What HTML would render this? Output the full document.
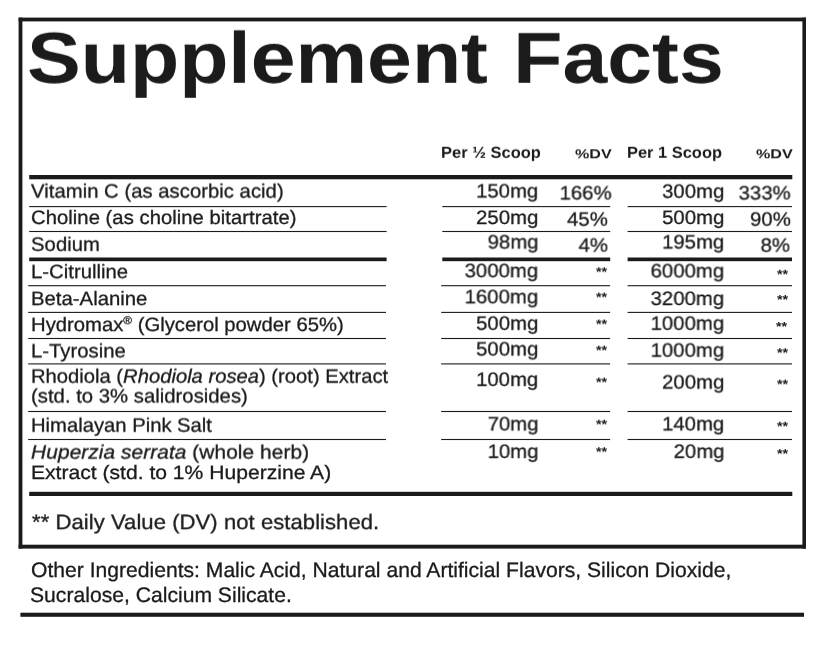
<!DOCTYPE html>
<html><head><meta charset="utf-8"><title>Supplement Facts</title>
<style>
html,body{margin:0;padding:0;background:#fff;}
body{width:816px;height:663px;position:relative;overflow:hidden;font-family:"Liberation Sans",sans-serif;color:#1b1b1b;text-rendering:geometricPrecision;}
.a{position:absolute;white-space:nowrap;line-height:1;will-change:transform;-webkit-text-stroke:0.3px #1b1b1b;}
.rules{position:absolute;left:0;top:0;}
sup{font-size:0.58em;vertical-align:baseline;position:relative;top:-0.6em;line-height:0;}
</style></head><body>
<svg class="rules" width="816" height="663" viewBox="0 0 816 663">
<rect x="18.6" y="17.6" width="787.40" height="3.80" fill="#1b1b1b"/>
<rect x="18.6" y="17.6" width="3.80" height="531.00" fill="#1b1b1b"/>
<rect x="802.4" y="17.6" width="3.60" height="531.00" fill="#1b1b1b"/>
<rect x="18.6" y="544.7" width="787.40" height="3.90" fill="#1b1b1b"/>
<rect x="20.4" y="612.7" width="783.60" height="4.10" fill="#1b1b1b"/>
<rect x="29.2" y="175.0" width="763.10" height="4.30" fill="#1b1b1b"/>
<rect x="29.2" y="491.8" width="763.10" height="4.20" fill="#1b1b1b"/>
<rect x="29.2" y="206.04999999999998" width="357.40" height="1.10" fill="#1b1b1b"/>
<rect x="442.3" y="206.04999999999998" width="167.90" height="1.10" fill="#1b1b1b"/>
<rect x="627.6" y="206.04999999999998" width="164.40" height="1.10" fill="#1b1b1b"/>
<rect x="29.2" y="230.95" width="357.40" height="1.10" fill="#1b1b1b"/>
<rect x="442.3" y="230.95" width="167.90" height="1.10" fill="#1b1b1b"/>
<rect x="627.6" y="230.95" width="164.40" height="1.10" fill="#1b1b1b"/>
<rect x="28.2" y="285.15" width="357.80" height="1.10" fill="#1b1b1b"/>
<rect x="441.2" y="285.15" width="168.90" height="1.10" fill="#1b1b1b"/>
<rect x="627.6" y="285.15" width="164.40" height="1.10" fill="#1b1b1b"/>
<rect x="28.2" y="311.84999999999997" width="357.80" height="1.10" fill="#1b1b1b"/>
<rect x="441.2" y="311.84999999999997" width="168.90" height="1.10" fill="#1b1b1b"/>
<rect x="627.6" y="311.84999999999997" width="164.40" height="1.10" fill="#1b1b1b"/>
<rect x="28.2" y="337.95" width="357.80" height="1.10" fill="#1b1b1b"/>
<rect x="441.2" y="337.95" width="168.90" height="1.10" fill="#1b1b1b"/>
<rect x="627.6" y="337.95" width="164.40" height="1.10" fill="#1b1b1b"/>
<rect x="28.2" y="363.34999999999997" width="357.80" height="1.10" fill="#1b1b1b"/>
<rect x="441.2" y="363.34999999999997" width="168.90" height="1.10" fill="#1b1b1b"/>
<rect x="627.6" y="363.34999999999997" width="164.40" height="1.10" fill="#1b1b1b"/>
<rect x="28.2" y="410.95" width="357.80" height="1.10" fill="#1b1b1b"/>
<rect x="441.2" y="410.95" width="168.90" height="1.10" fill="#1b1b1b"/>
<rect x="627.6" y="410.95" width="164.40" height="1.10" fill="#1b1b1b"/>
<rect x="28.2" y="438.95" width="357.80" height="1.10" fill="#1b1b1b"/>
<rect x="441.2" y="438.95" width="168.90" height="1.10" fill="#1b1b1b"/>
<rect x="627.6" y="438.95" width="164.40" height="1.10" fill="#1b1b1b"/>
<rect x="29.2" y="257.5" width="357.40" height="3.70" fill="#1b1b1b"/>
<rect x="442.3" y="257.5" width="167.90" height="3.70" fill="#1b1b1b"/>
<rect x="627.6" y="257.5" width="164.40" height="3.70" fill="#1b1b1b"/>
</svg>
<div id="e0" class="a" style="top:22px;font-size:72.5px;left:27.2px;font-weight:bold;transform:translateY(0.8px) rotate(0.002deg) scaleX(1.111);transform-origin:left top;-webkit-text-stroke:0;word-spacing:2.7px;">Supplement Facts</div>
<div id="e1" class="a" style="top:145px;font-size:16px;left:440.5px;font-weight:bold;transform:translateY(0.8px) rotate(0.002deg) scaleX(1.03);transform-origin:left top;-webkit-text-stroke:0;">Per ½ Scoop</div>
<div id="e2" class="a" style="top:147px;font-size:13px;left:574.5px;font-weight:bold;transform:translateY(0.3px) rotate(0.002deg) scaleX(1.24);transform-origin:left top;-webkit-text-stroke:0;">%DV</div>
<div id="e3" class="a" style="top:145px;font-size:16px;left:627.0px;font-weight:bold;transform:translateY(0.8px) rotate(0.002deg) scaleX(1.027);transform-origin:left top;-webkit-text-stroke:0;">Per 1 Scoop</div>
<div id="e4" class="a" style="top:147px;font-size:13px;left:755.9px;font-weight:bold;transform:translateY(0.3px) rotate(0.002deg) scaleX(1.24);transform-origin:left top;-webkit-text-stroke:0;">%DV</div>
<div id="e5" class="a" style="top:182px;font-size:19.4px;left:31.4px;transform:translateY(0.6px) rotate(0.002deg) scaleX(1.048);transform-origin:left top;">Vitamin C (as ascorbic acid)</div>
<div id="e6" class="a" style="top:209px;font-size:19.4px;left:31.4px;transform:translateY(0px) rotate(0.002deg) scaleX(1.048);transform-origin:left top;">Choline (as choline bitartrate)</div>
<div id="e7" class="a" style="top:235px;font-size:19.4px;left:31.4px;transform:translateY(0.8px) rotate(0.002deg) scaleX(1.048);transform-origin:left top;">Sodium</div>
<div id="e8" class="a" style="top:263px;font-size:19.4px;left:31.4px;transform:translateY(0.2px) rotate(0.002deg) scaleX(1.048);transform-origin:left top;">L-Citrulline</div>
<div id="e9" class="a" style="top:290px;font-size:19.4px;left:31.4px;transform:translateY(0.1px) rotate(0.002deg) scaleX(1.048);transform-origin:left top;">Beta-Alanine</div>
<div id="e10" class="a" style="top:316px;font-size:19.4px;left:31.4px;transform:translateY(0.1px) rotate(0.002deg) scaleX(1.045);transform-origin:left top;">Hydromax<sup>®</sup> (Glycerol powder 65%)</div>
<div id="e11" class="a" style="top:342px;font-size:19.4px;left:31.4px;transform:translateY(0.4px) rotate(0.002deg) scaleX(1.048);transform-origin:left top;">L-Tyrosine</div>
<div id="e12" class="a" style="top:367px;font-size:19.4px;left:31.4px;transform:translateY(0.7px) rotate(0.002deg) scaleX(1.042);transform-origin:left top;">Rhodiola (<i>Rhodiola rosea</i>) (root) Extract</div>
<div id="e13" class="a" style="top:387px;font-size:19.4px;left:31.4px;transform:translateY(0.5px) rotate(0.002deg) scaleX(1.048);transform-origin:left top;">(std. to 3% salidrosides)</div>
<div id="e14" class="a" style="top:416px;font-size:19.4px;left:31.4px;transform:translateY(0.7px) rotate(0.002deg) scaleX(1.043);transform-origin:left top;">Himalayan Pink Salt</div>
<div id="e15" class="a" style="top:443px;font-size:19.4px;left:31.4px;transform:translateY(0.6px) rotate(0.002deg) scaleX(1.084);transform-origin:left top;"><i>Huperzia serrata</i> (whole herb)</div>
<div id="e16" class="a" style="top:464px;font-size:19.4px;left:31.4px;transform:translateY(0px) rotate(0.002deg) scaleX(1.088);transform-origin:left top;">Extract (std. to 1% Huperzine A)</div>
<div id="e17" class="a" style="top:182px;font-size:19.4px;right:277.70px;transform:translateY(0.5px) rotate(0.002deg) scaleX(1.048);transform-origin:right top;">150mg</div>
<div id="e18" class="a" style="top:209px;font-size:19.4px;right:277.70px;transform:translateY(0px) rotate(0.002deg) scaleX(1.048);transform-origin:right top;">250mg</div>
<div id="e19" class="a" style="top:233px;font-size:19.4px;right:277.70px;transform:translateY(0.5px) rotate(0.002deg) scaleX(1.048);transform-origin:right top;">98mg</div>
<div id="e20" class="a" style="top:262px;font-size:19.4px;right:277.70px;transform:translateY(0.2px) rotate(0.002deg) scaleX(1.048);transform-origin:right top;">3000mg</div>
<div id="e21" class="a" style="top:288px;font-size:19.4px;right:277.70px;transform:translateY(0.3px) rotate(0.002deg) scaleX(1.048);transform-origin:right top;">1600mg</div>
<div id="e22" class="a" style="top:314px;font-size:19.4px;right:277.70px;transform:translateY(0.8px) rotate(0.002deg) scaleX(1.048);transform-origin:right top;">500mg</div>
<div id="e23" class="a" style="top:340px;font-size:19.4px;right:277.70px;transform:translateY(0.5px) rotate(0.002deg) scaleX(1.048);transform-origin:right top;">500mg</div>
<div id="e24" class="a" style="top:370px;font-size:19.4px;right:277.70px;transform:translateY(0.9px) rotate(0.002deg) scaleX(1.048);transform-origin:right top;">100mg</div>
<div id="e25" class="a" style="top:415px;font-size:19.4px;right:277.70px;transform:translateY(0.4px) rotate(0.002deg) scaleX(1.048);transform-origin:right top;">70mg</div>
<div id="e26" class="a" style="top:442px;font-size:19.4px;right:277.70px;transform:translateY(0.9px) rotate(0.002deg) scaleX(1.048);transform-origin:right top;">10mg</div>
<div id="e27" class="a" style="top:182px;font-size:19.4px;right:91.70px;transform:translateY(0.8px) rotate(0.002deg) scaleX(1.048);transform-origin:right top;">300mg</div>
<div id="e28" class="a" style="top:209px;font-size:19.4px;right:91.70px;transform:translateY(0px) rotate(0.002deg) scaleX(1.048);transform-origin:right top;">500mg</div>
<div id="e29" class="a" style="top:233px;font-size:19.4px;right:91.70px;transform:translateY(0.5px) rotate(0.002deg) scaleX(1.048);transform-origin:right top;">195mg</div>
<div id="e30" class="a" style="top:262px;font-size:19.4px;right:91.70px;transform:translateY(0.4px) rotate(0.002deg) scaleX(1.048);transform-origin:right top;">6000mg</div>
<div id="e31" class="a" style="top:290px;font-size:19.4px;right:91.70px;transform:translateY(0px) rotate(0.002deg) scaleX(1.048);transform-origin:right top;">3200mg</div>
<div id="e32" class="a" style="top:314px;font-size:19.4px;right:91.70px;transform:translateY(0.8px) rotate(0.002deg) scaleX(1.048);transform-origin:right top;">1000mg</div>
<div id="e33" class="a" style="top:341px;font-size:19.4px;right:91.70px;transform:translateY(0.7px) rotate(0.002deg) scaleX(1.048);transform-origin:right top;">1000mg</div>
<div id="e34" class="a" style="top:373px;font-size:19.4px;right:91.70px;transform:translateY(0.6px) rotate(0.002deg) scaleX(1.048);transform-origin:right top;">200mg</div>
<div id="e35" class="a" style="top:415px;font-size:19.4px;right:91.70px;transform:translateY(0.4px) rotate(0.002deg) scaleX(1.048);transform-origin:right top;">140mg</div>
<div id="e36" class="a" style="top:442px;font-size:19.4px;right:91.70px;transform:translateY(0.9px) rotate(0.002deg) scaleX(1.048);transform-origin:right top;">20mg</div>
<div id="e37" class="a" style="top:184px;font-size:19.4px;right:204.50px;transform:translateY(0.5px) rotate(0.002deg) scaleX(1.048);transform-origin:right top;">166%</div>
<div id="e38" class="a" style="top:210px;font-size:19.4px;right:208.00px;transform:translateY(0.7px) rotate(0.002deg) scaleX(1.048);transform-origin:right top;">45%</div>
<div id="e39" class="a" style="top:236px;font-size:19.4px;right:208.00px;transform:translateY(0.7px) rotate(0.002deg) scaleX(1.048);transform-origin:right top;">4%</div>
<div id="e40" class="a" style="top:184px;font-size:19.4px;right:25.70px;transform:translateY(0.5px) rotate(0.002deg) scaleX(1.048);transform-origin:right top;">333%</div>
<div id="e41" class="a" style="top:210px;font-size:19.4px;right:25.70px;transform:translateY(0.7px) rotate(0.002deg) scaleX(1.048);transform-origin:right top;">90%</div>
<div id="e42" class="a" style="top:236px;font-size:19.4px;right:25.70px;transform:translateY(0.7px) rotate(0.002deg) scaleX(1.048);transform-origin:right top;">8%</div>
<div id="e43" class="a" style="top:265px;font-size:13.2px;left:595.7px;font-weight:bold;transform:translateY(0.33px) rotate(0.002deg) scaleX(1.09);transform-origin:left top;-webkit-text-stroke:0;">**</div>
<div id="e44" class="a" style="top:290px;font-size:13.2px;left:595.7px;font-weight:bold;transform:translateY(0.63px) rotate(0.002deg) scaleX(1.09);transform-origin:left top;-webkit-text-stroke:0;">**</div>
<div id="e45" class="a" style="top:317px;font-size:13.2px;left:595.7px;font-weight:bold;transform:translateY(0.53px) rotate(0.002deg) scaleX(1.09);transform-origin:left top;-webkit-text-stroke:0;">**</div>
<div id="e46" class="a" style="top:343px;font-size:13.2px;left:595.7px;font-weight:bold;transform:translateY(0.73px) rotate(0.002deg) scaleX(1.09);transform-origin:left top;-webkit-text-stroke:0;">**</div>
<div id="e47" class="a" style="top:375px;font-size:13.2px;left:595.7px;font-weight:bold;transform:translateY(0.63px) rotate(0.002deg) scaleX(1.09);transform-origin:left top;-webkit-text-stroke:0;">**</div>
<div id="e48" class="a" style="top:417px;font-size:13.2px;left:595.7px;font-weight:bold;transform:translateY(0.73px) rotate(0.002deg) scaleX(1.09);transform-origin:left top;-webkit-text-stroke:0;">**</div>
<div id="e49" class="a" style="top:445px;font-size:13.2px;left:595.7px;font-weight:bold;transform:translateY(0.23px) rotate(0.002deg) scaleX(1.09);transform-origin:left top;-webkit-text-stroke:0;">**</div>
<div id="e50" class="a" style="top:267px;font-size:13.2px;left:777.1px;font-weight:bold;transform:translateY(0.73px) rotate(0.002deg) scaleX(1.09);transform-origin:left top;-webkit-text-stroke:0;">**</div>
<div id="e51" class="a" style="top:293px;font-size:13.2px;left:777.1px;font-weight:bold;transform:translateY(0.03px) rotate(0.002deg) scaleX(1.09);transform-origin:left top;-webkit-text-stroke:0;">**</div>
<div id="e52" class="a" style="top:320px;font-size:13.2px;left:776.1px;font-weight:bold;transform:translateY(0.03px) rotate(0.002deg) scaleX(1.09);transform-origin:left top;-webkit-text-stroke:0;">**</div>
<div id="e53" class="a" style="top:346px;font-size:13.2px;left:776.6px;font-weight:bold;transform:translateY(0.23px) rotate(0.002deg) scaleX(1.09);transform-origin:left top;-webkit-text-stroke:0;">**</div>
<div id="e54" class="a" style="top:377px;font-size:13.2px;left:777.1px;font-weight:bold;transform:translateY(0.63px) rotate(0.002deg) scaleX(1.09);transform-origin:left top;-webkit-text-stroke:0;">**</div>
<div id="e55" class="a" style="top:419px;font-size:13.2px;left:776.6px;font-weight:bold;transform:translateY(0.73px) rotate(0.002deg) scaleX(1.09);transform-origin:left top;-webkit-text-stroke:0;">**</div>
<div id="e56" class="a" style="top:447px;font-size:13.2px;left:777.3px;font-weight:bold;transform:translateY(0.13px) rotate(0.002deg) scaleX(1.09);transform-origin:left top;-webkit-text-stroke:0;">**</div>
<div id="e57" class="a" style="top:512px;font-size:21px;left:32.1px;transform:translateY(0.1px) rotate(0.002deg) scaleX(1.056);transform-origin:left top;">** Daily Value (DV) not established.</div>
<div id="e58" class="a" style="top:560px;font-size:21px;left:30.8px;transform:translateY(0px) rotate(0.002deg) scaleX(1.005);transform-origin:left top;">Other Ingredients: Malic Acid, Natural and Artificial Flavors, Silicon Dioxide,</div>
<div id="e59" class="a" style="top:585px;font-size:21px;left:29.8px;transform:translateY(0px) rotate(0.002deg) scaleX(1.006);transform-origin:left top;">Sucralose, Calcium Silicate.</div>
</body></html>
